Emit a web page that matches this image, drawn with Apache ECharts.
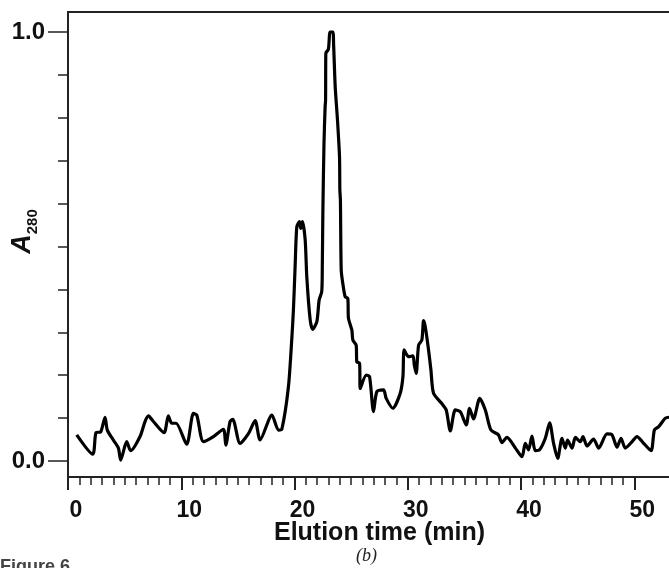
<!DOCTYPE html>
<html>
<head>
<meta charset="utf-8">
<script src="https://cdn.jsdelivr.net/npm/echarts@6/dist/echarts.min.js"></script>
<style>
html,body{margin:0;padding:0;background:#fff;}
#chart{width:669px;height:568px;}
</style>
</head>
<body>
<div id="chart"></div>
<script>
// Elution time (min)
const time = [0.77,2.18,2.47,2.89,3.27,3.47,4.00,4.45,4.65,5.18,5.53,6.36,6.80,7.10,7.54,8.48,8.86,9.16,9.54,10.48,
  11.07,11.37,11.96,12.84,13.72,13.93,14.31,14.55,15.19,15.93,16.52,16.96,18.00,18.58,18.88,19.46,19.76,19.90,20.05,20.20,
  20.43,20.55,20.70,20.94,21.08,21.38,21.60,21.97,22.17,22.40,22.45,22.50,22.60,22.70,22.74,22.76,22.99,23.14,23.38,23.45,
  23.59,23.79,23.97,24.00,24.05,24.12,24.26,24.47,24.70,24.76,25.06,25.15,25.44,25.50,25.74,25.80,26.33,26.62,26.97,27.27,
  27.86,28.09,28.68,29.33,29.57,29.68,30.06,30.45,30.57,30.74,30.95,31.24,31.39,31.54,31.83,32.04,32.27,33.00,33.39,33.75,
  34.19,34.63,35.16,35.45,35.80,36.35,36.84,37.34,38.00,38.30,38.75,39.50,40.08,40.37,40.66,40.96,41.25,41.63,42.14,42.52,
  42.87,43.23,43.61,43.90,44.10,44.50,44.79,45.23,45.46,45.82,46.40,46.85,47.58,48.02,48.47,48.82,49.20,49.80,50.23,50.76,
  51.47,51.77,52.15,52.74,53.10];
// A280 absorbance (normalised)
const absorbance = [0.061,0.016,0.066,0.068,0.102,0.072,0.049,0.030,0.002,0.045,0.024,0.057,0.092,0.105,0.092,0.066,0.105,0.088,0.088,0.039,
  0.111,0.107,0.045,0.057,0.074,0.037,0.092,0.097,0.041,0.064,0.094,0.049,0.107,0.072,0.074,0.173,0.286,0.352,0.453,0.546,
  0.558,0.542,0.558,0.515,0.430,0.329,0.307,0.325,0.375,0.395,0.450,0.580,0.741,0.826,0.841,0.950,0.960,1.000,1.000,0.970,
  0.872,0.795,0.709,0.632,0.608,0.445,0.414,0.383,0.379,0.333,0.305,0.282,0.270,0.231,0.228,0.169,0.200,0.197,0.115,0.162,
  0.166,0.146,0.123,0.158,0.197,0.259,0.243,0.245,0.224,0.204,0.270,0.282,0.327,0.313,0.259,0.212,0.158,0.134,0.119,0.070,
  0.119,0.115,0.084,0.123,0.098,0.146,0.119,0.072,0.061,0.043,0.055,0.030,0.010,0.041,0.026,0.058,0.024,0.026,0.053,0.089,
  0.041,0.006,0.053,0.030,0.049,0.030,0.055,0.045,0.057,0.035,0.051,0.030,0.063,0.061,0.032,0.053,0.030,0.045,0.057,0.043,
  0.024,0.072,0.080,0.100,0.102];

const xMajorTicks = [0,10,20,30,40,50];
const xMinorTicks = [];
for (let i = 1; i < 50; i++) { if (i % 10 !== 0) xMinorTicks.push(i); }
const yMajorTicks = [0,1];
const yMinorTicks = [0.1,0.2,0.3,0.4,0.5,0.6,0.7,0.8,0.9];

const X_MIN = 0, X_MAX = 55;
const Y_MIN = -0.0373, Y_MAX = 1.0466;

const FONT = '"Liberation Sans", Arial, Helvetica, sans-serif';
const gridBox = {left: 68, top: 12, right: -22, bottom: 91, outerBoundsMode: 'none', containLabel: false};

const chart = echarts.init(document.getElementById('chart'), null, {renderer: 'canvas'});
chart.setOption({
  animation: false,
  backgroundColor: '#fff',
  grid: [
    Object.assign({show: true, borderColor: '#222', borderWidth: 2, backgroundColor: 'transparent'}, gridBox),
    Object.assign({show: false}, gridBox)
  ],
  xAxis: [
    {
      type: 'value', gridIndex: 0, min: X_MIN, max: X_MAX,
      axisLine: {show: true, onZero: false, lineStyle: {color: '#222', width: 2}},
      axisTick: {show: true, inside: false, length: 8, customValues: xMinorTicks, lineStyle: {color: '#222', width: 1.5}},
      axisLabel: {show: false},
      splitLine: {show: false}
    },
    {
      type: 'value', gridIndex: 1, min: X_MIN, max: X_MAX,
      name: 'Elution time (min)', nameLocation: 'middle', nameGap: 44, nameMoveOverlap: false,
      nameTextStyle: {fontFamily: FONT, fontWeight: 'bold', fontSize: 25, color: '#111'},
      axisLine: {show: false, onZero: false},
      axisTick: {show: true, inside: false, length: 13, customValues: xMajorTicks, lineStyle: {color: '#222', width: 2}},
      axisLabel: {show: true, customValues: xMajorTicks, margin: 22, fontFamily: FONT, fontWeight: 'bold', fontSize: 23, color: '#111', padding: [0,0,0,16]},
      splitLine: {show: false}
    }
  ],
  yAxis: [
    {
      type: 'value', gridIndex: 0, min: Y_MIN, max: Y_MAX,
      axisLine: {show: true, onZero: false, lineStyle: {color: '#222', width: 2}},
      axisTick: {show: true, inside: false, length: 10, customValues: yMinorTicks, lineStyle: {color: '#222', width: 1.5}},
      axisLabel: {show: false},
      splitLine: {show: false}
    },
    {
      type: 'value', gridIndex: 1, min: Y_MIN, max: Y_MAX,
      name: '{a|A}{s|280}', nameLocation: 'middle', nameGap: 28, nameRotate: 90, nameMoveOverlap: false,
      nameTextStyle: {
        padding: [0,0,0,26],
        rich: {
          a: {fontFamily: FONT, fontWeight: 'bold', fontStyle: 'italic', fontSize: 27, color: '#111', lineHeight: 34, verticalAlign: 'middle'},
          s: {fontFamily: FONT, fontWeight: 'bold', fontSize: 15, color: '#111', lineHeight: 16, verticalAlign: 'bottom'}
        }
      },
      axisLine: {show: false, onZero: false},
      axisTick: {show: true, inside: false, length: 20, customValues: yMajorTicks, lineStyle: {color: '#222', width: 1.5}},
      axisLabel: {show: true, customValues: yMajorTicks, margin: 23, fontFamily: FONT, fontWeight: 'bold', fontSize: 24, color: '#111',
        formatter: v => Number(v).toFixed(1)},
      splitLine: {show: false}
    }
  ],
  graphic: [
    {type: 'text', left: 356, top: 547, style: {text: '(b)', fontFamily: '"Liberation Serif", "Times New Roman", serif', fontStyle: 'italic', fontSize: 18, fill: '#222'}},
    {type: 'text', left: 0, top: 558, style: {text: 'Figure 6', fontFamily: FONT, fontWeight: 'bold', fontSize: 18, fill: '#444'}}
  ],
  series: [{
    type: 'line', xAxisIndex: 0, yAxisIndex: 0,
    data: time.map((t, i) => [t, absorbance[i]]),
    showSymbol: false, smooth: 0.25,
    lineStyle: {color: '#000', width: 3.2},
    clip: true
  }]
});
</script>
</body>
</html>
